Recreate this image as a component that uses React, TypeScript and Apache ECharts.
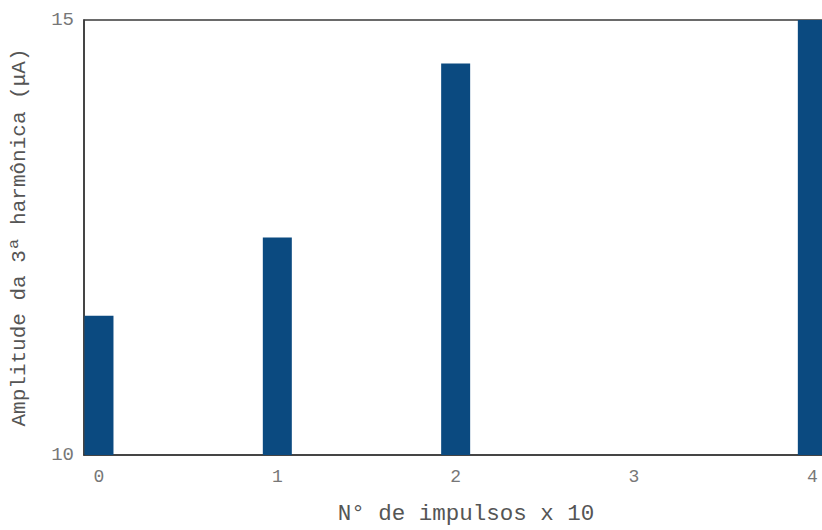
import React, { useEffect, useRef } from "react";
import * as echarts from "echarts";

const impulseCounts = [0, 1, 2, 4];
const amplitudes = [11.6, 12.5, 14.5, 15];
const xTickLabels = [0, 1, 2, 3, 4];
const yMin = 10;
const yMax = 15;
const xAxisTitle = "N° de impulsos x 10";
const yAxisTitle = "Amplitude da 3ª harmônica (μA)";

export default function App() {
  const ref = useRef<HTMLDivElement>(null);
  useEffect(() => {
    if (!ref.current) return;
    const chart = echarts.init(ref.current, null, { renderer: "svg" });
    const font = "'Liberation Mono', 'DejaVu Sans Mono', monospace";
    chart.setOption({
      animation: false,
      backgroundColor: "#ffffff",
      grid: {
        left: 84,
        top: 20,
        bottom: 72,
        right: 2,
        show: true,
        borderColor: "#3a3a3a",
        borderWidth: 1.5,
        backgroundColor: "transparent",
      },
      xAxis: {
        type: "value",
        min: -0.084,
        max: 4.2,
        name: xAxisTitle,
        nameLocation: "middle",
        nameGap: 47,
        nameTextStyle: { fontFamily: font, fontSize: 22.5, color: "#555" },
        axisLine: { show: true, onZero: false, lineStyle: { color: "#3a3a3a", width: 1.5 } },
        axisTick: { show: false },
        splitLine: { show: false },
        axisLabel: {
          customValues: xTickLabels,
          margin: 13,
          fontFamily: font,
          fontSize: 18,
          color: "#777",
        },
      },
      yAxis: {
        type: "value",
        min: yMin,
        max: yMax,
        interval: 5,
        name: yAxisTitle,
        nameLocation: "middle",
        nameGap: 54,
        nameTextStyle: { fontFamily: font, fontSize: 21, color: "#555" },
        axisLine: { show: true, onZero: false, lineStyle: { color: "#3a3a3a", width: 1.5 } },
        axisTick: { show: false },
        splitLine: { show: false },
        axisLabel: {
          margin: 10,
          fontFamily: font,
          fontSize: 19,
          color: "#777",
        },
      },
      series: [
        {
          type: "bar",
          barWidth: 29,
          clip: true,
          startValue: yMin,
          itemStyle: { color: "#0b4a80" },
          data: impulseCounts.map((x, i) => [x, amplitudes[i]]),
        },
      ],
    });
    return () => chart.dispose();
  }, []);
  return (
    <div
      ref={ref}
      style={{ position: "fixed", left: 0, top: 0, width: 850, height: 530 }}
    />
  );
}
